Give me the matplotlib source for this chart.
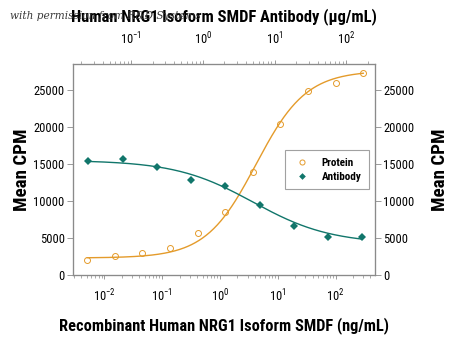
import numpy as np
import matplotlib
matplotlib.use("Agg")
import matplotlib.pyplot as plt
from matplotlib import font_manager as fm
from matplotlib.ticker import LogLocator, NullFormatter

# ---- data ----
protein_conc = [0.00508, 0.0152, 0.0457, 0.137, 0.412, 1.23, 3.70, 11.1, 33.3, 100.0, 300.0]  # ng/mL
protein_cpm = [2070, 2520, 2970, 3700, 5630, 8470, 13880, 20400, 24860, 25900, 27260]
antibody_conc = [0.0254, 0.0762, 0.229, 0.686, 2.06, 6.17, 18.5, 55.6, 167.0]  # ug/mL
antibody_cpm = [15360, 15630, 14550, 12840, 11990, 9460, 6660, 5135, 5135]
# four-parameter logistic fit parameters
protein_fit = dict(bottom=2300, top=27600, ec50=4.2, hill=1.0)
antibody_fit = dict(bottom=4200, top=15500, ec50=5.0, hill=0.8)
yticks = [0, 5000, 10000, 15000, 20000, 25000]

ORANGE = "#E49B2B"
TEAL = "#11766B"
FRAME = "#8a8a8a"

avail = {f.name for f in fm.fontManager.ttflist}
cands = [n for n in sorted(avail) if ('Narrow' in n or 'Condensed' in n)]
main = None
for c in ['Liberation Sans Narrow', 'Roboto Condensed', 'Open Sans Condensed'] + cands + ['Roboto', 'Lato', 'DejaVu Sans']:
    if c in avail:
        main = c
        break
plt.rcParams['font.family'] = [main, 'DejaVu Sans']
plt.rcParams['mathtext.fontset'] = 'custom'
plt.rcParams['mathtext.rm'] = main
plt.rcParams['mathtext.it'] = main


def rising(x, p):
    return p['bottom'] + (p['top'] - p['bottom']) / (1 + (p['ec50'] / x) ** p['hill'])


def falling(x, p):
    return p['bottom'] + (p['top'] - p['bottom']) / (1 + (x / p['ec50']) ** p['hill'])


fig = plt.figure(figsize=(4.5, 3.38), dpi=100)
ax = fig.add_axes([73/450, 1-275/338, (375-73)/450, (275-64)/338])
ax.set_xscale('log')
ax.set_xlim(10**-2.54, 10**2.68)
ax.set_ylim(0, 28500)

xs = np.logspace(np.log10(protein_conc[0]), np.log10(protein_conc[-1]), 300)
ax.plot(xs, rising(xs, protein_fit), color=ORANGE, lw=1.0, zorder=2)
pts_p, = ax.plot(protein_conc, protein_cpm, 'o', mfc='none', mec=ORANGE, mew=0.7, ms=4.3, zorder=3)

ax2 = ax.twiny()
ax2.set_xscale('log')
ax2.set_xlim(10**-1.81, 10**2.40)
xa = np.logspace(np.log10(antibody_conc[0]), np.log10(antibody_conc[-1]), 300)
ax2.plot(xa, falling(xa, antibody_fit), color=TEAL, lw=1.0, zorder=2)
pts_a, = ax2.plot(antibody_conc, antibody_cpm, 'D', color=TEAL, ms=4.0, mew=0, zorder=3)
ax2.set_ylim(0, 28500)

ax3 = ax.twinx()
ax3.set_ylim(0, 28500)

for a in (ax, ax2, ax3):
    for s in a.spines.values():
        s.set_color(FRAME)
        s.set_linewidth(0.8)

ax.set_yticks(yticks)
ax3.set_yticks(yticks)
for a in (ax, ax3):
    a.tick_params(axis='y', direction='out', length=4, width=0.6, color=FRAME, labelsize=9, pad=2)

for a, pad in ((ax, 6), (ax2, 9)):
    a.xaxis.set_major_locator(LogLocator(base=10, numticks=20))
    a.xaxis.set_minor_locator(LogLocator(base=10, subs=np.arange(2, 10), numticks=20))
    a.xaxis.set_minor_formatter(NullFormatter())
    a.tick_params(axis='x', which='major', direction='out', length=3, width=0.6, color=FRAME, labelsize=9, pad=pad)
    a.tick_params(axis='x', which='minor', direction='out', length=2, width=0.5, color=FRAME)

ylab1 = ax.set_ylabel('Mean CPM', fontsize=12.5, fontweight='bold', labelpad=2)
ylab2 = ax3.set_ylabel('Mean CPM', fontsize=12.5, fontweight='bold', labelpad=12)
xlab = ax.set_xlabel('Recombinant Human NRG1 Isoform SMDF (ng/mL)', fontsize=12.5, fontweight='bold', labelpad=9)
tlab = ax2.set_xlabel('Human NRG1 Isoform SMDF Antibody (\u03bcg/mL)', fontsize=12.5, fontweight='bold', labelpad=7)

# fit label sizes to the widths seen in the reference
fig.canvas.draw()
r = fig.canvas.get_renderer()
for t, target in [(xlab, 330), (tlab, 306)]:
    w = t.get_window_extent(r).width
    t.set_fontsize(min(15, t.get_fontsize() * target / w))
for t in (ylab1, ylab2):
    h = t.get_window_extent(r).height
    t.set_fontsize(min(15, t.get_fontsize() * 82 / h))

leg = ax3.legend([pts_p, pts_a], ['Protein', 'Antibody'], loc='upper left',
                 bbox_to_anchor=((285-73)/302, 1-(150-64)/211), fontsize=8, frameon=True,
                 fancybox=False, edgecolor=FRAME, borderpad=0.7, handletextpad=0.9,
                 labelspacing=0.35, handlelength=1.7, borderaxespad=0, markerscale=0.85)
leg.get_frame().set_linewidth(0.8)
for tx in leg.get_texts():
    tx.set_fontweight('bold')

fig.text(10/450, 1-16/338, 'with permission from R&D Systems', family='DejaVu Serif', style='italic',
         fontsize=7.6, color='#3a3a3a', va='center', ha='left', zorder=0)

fig.savefig('out.png', dpi=100)
